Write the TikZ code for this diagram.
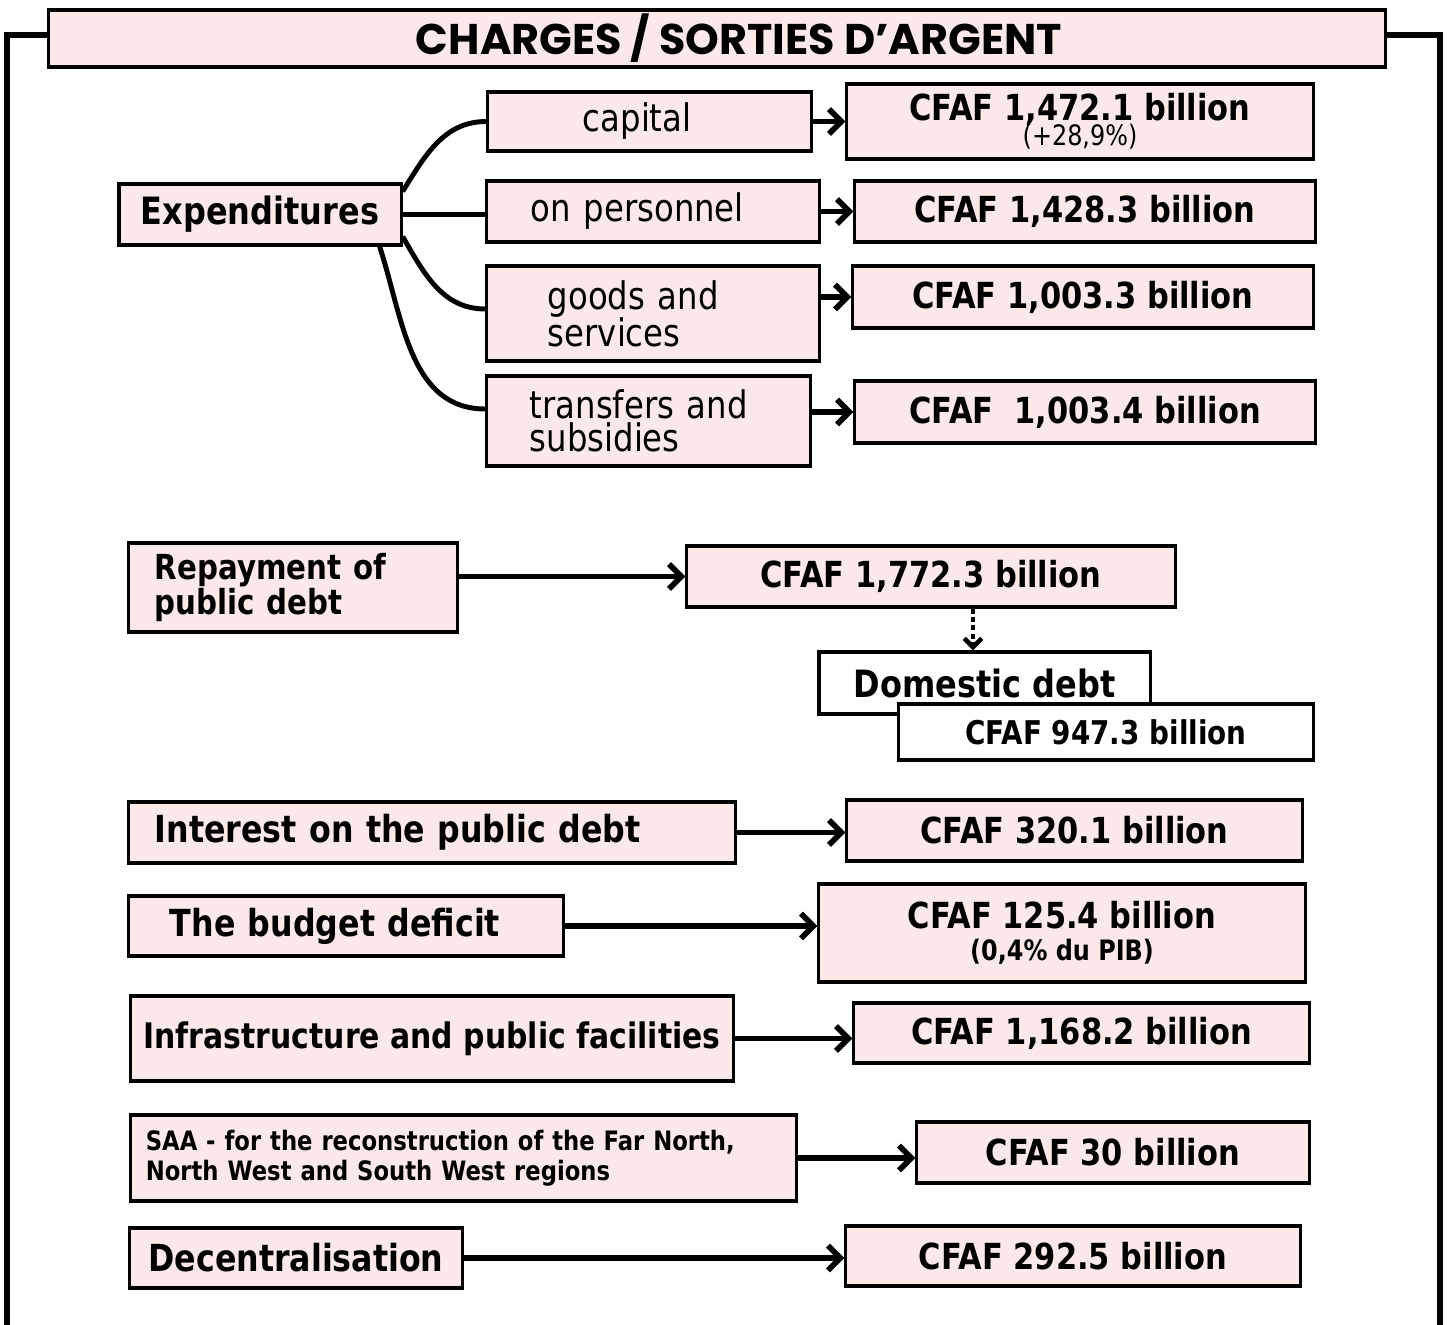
\documentclass[tikz,border=0pt]{standalone}
\usepackage{fontspec}
\setmainfont{DejaVu Sans}[FakeStretch=0.85]
\newfontfamily\titlefont{Poppins}
\usetikzlibrary{arrows.meta}
\definecolor{boxpink}{RGB}{251,233,233}

\tikzset{
  bsize/.style 2 args={minimum width=#1cm, minimum height=#2cm},
  box/.style={draw, line width=0.9pt, fill=boxpink, inner sep=0pt},
  valbox/.style={box, font=\fontsize{10.2}{12}\selectfont\bfseries},
  subbox/.style={box, font=\fontsize{10.8}{10.5}\selectfont},
  headbox/.style={box, font=\fontsize{10.6}{10}\selectfont\bfseries},
  frame/.style={line width=1.7pt},
  link/.style={line width=1.4pt},
  arr/.style={line width=1.6pt, -{Straight Barb[length=3.5pt,width=7pt]}},
  dotarr/.style={line width=1.3pt, dash pattern=on 1.4pt off 1pt, -{Straight Barb[length=2.5pt,width=5pt]}},
}

\begin{document}
\begin{tikzpicture}[x=0.01cm, y=-0.01cm]
\useasboundingbox (0,0) rectangle (1449,1325);

% outer frame and title
\coordinate (fl) at (7,1325);
\coordinate (fr) at (1440,1325);
\draw[frame] (fl) |- (49,35);
\draw[frame] (fr) |- (1385,35);
\node[box, bsize={13.36}{0.57}, font=\titlefont\fontsize{12.2}{12}\selectfont\bfseries] (title) at (717,38.5) {\hspace{0.44cm}CHARGES / SORTIES D’ARGENT};

% expenditures
\node[headbox, bsize={2.82}{0.61}, font=\fontsize{10.7}{12}\selectfont\bfseries] (expend) at (260,214.5) {Expenditures};
\node[subbox, bsize={3.23}{0.59}, text width=1.33cm, inner xsep=0.95cm, align=left] (capital) at (649.5,121.5) {capital};
\node[subbox, bsize={3.32}{0.61}, text width=2.44cm, inner xsep=0.44cm, align=left] (personnel) at (653,211.5) {on personnel};
\node[subbox, bsize={3.32}{0.95}, text width=2.10cm, inner xsep=0.61cm, align=left] (goods) at (653,313.5) {goods and\\services};
\node[subbox, bsize={3.23}{0.90}, text width=2.37cm, inner xsep=0.43cm, align=left, font=\fontsize{10.8}{9.4}\selectfont] (transfers) at (648.5,421) {transfers and\\subsidies};

\node[valbox, bsize={4.66}{0.75}, align=center] (vcap) at (1080,121.5) {CFAF 1,472.1 billion\\[-5pt]{\fontsize{8}{8}\selectfont\mdseries (+28,9\%)}};
\node[valbox, bsize={4.60}{0.61}] (vpers) at (1085,211.5) {CFAF 1,428.3 billion};
\node[valbox, bsize={4.60}{0.62}] (vgoods) at (1083,297) {CFAF 1,003.3 billion};
\node[valbox, bsize={4.60}{0.62}] (vtrans) at (1085,412) {CFAF\ \ 1,003.4 billion};

\draw[link] ([yshift=-0.09cm]expend.north east) to[out=58,in=180] (capital.west);
\draw[link] (expend.east) -- (expend.east -| personnel.west);
\draw[link] ([yshift=0.1cm]expend.south east) to[out=-60,in=180] ([yshift=0.045cm]goods.west);
\draw[link] ([xshift=-0.23cm]expend.south east) to[out=-72,in=180] ([yshift=0.12cm]transfers.west);

\draw[arr] (capital.east) -- (vcap.west);
\draw[arr] (personnel.east) -- (vpers.west);
\draw[arr] (vgoods.west -| goods.east) -- (vgoods.west);
\draw[arr] (vtrans.west -| transfers.east) -- (vtrans.west);

% public debt
\node[headbox, bsize={3.28}{0.89}, text width=2.76cm, inner xsep=0.26cm, align=left, font=\fontsize{9.8}{10}\selectfont\bfseries] (repay) at (293,587.5) {Repayment of\\public debt};
\node[valbox, bsize={4.88}{0.61}] (vrepay) at (931,576.5) {CFAF 1,772.3 billion};
\node[box, fill=white, bsize={3.31}{0.62}, font=\fontsize{10.7}{12}\selectfont\bfseries] (domestic) at (984.5,683) {Domestic debt};
\node[box, fill=white, bsize={4.14}{0.56}, font=\fontsize{9.3}{12}\selectfont\bfseries] (vdomestic) at (1106,732) {CFAF 947.3 billion};

\draw[arr] (repay.east |- vrepay.west) -- (vrepay.west);
\coordinate (dd) at ([xshift=-0.115cm]domestic.north);
\draw[dotarr] (dd |- vrepay.south) -- (dd);

% other charges
\node[headbox, bsize={6.06}{0.61}, text width=5.54cm, inner xsep=0.26cm, align=left] (interest) at (432,832.5) {Interest on the public debt};
\node[valbox, bsize={4.55}{0.61}] (vinterest) at (1074.5,830.5) {CFAF 320.1 billion};
\node[headbox, bsize={4.34}{0.60}, text width=3.52cm, inner xsep=0.41cm, align=left] (deficit) at (346,926) {The budget deficit};
\node[valbox, bsize={4.86}{0.98}, align=center] (vdeficit) at (1062,933) {CFAF 125.4 billion\\[-3pt]{\fontsize{8}{8}\selectfont (0,4\% du PIB)}};
\node[headbox, bsize={6.02}{0.85}, font=\fontsize{10}{12}\selectfont\bfseries] (infra) at (432,1038.5) {Infrastructure and public facilities};
\node[valbox, bsize={4.55}{0.60}] (vinfra) at (1081.5,1033) {CFAF 1,168.2 billion};
\node[headbox, bsize={6.65}{0.86}, text width=6.35cm, inner xsep=0.15cm, align=left, font=\fontsize{7.6}{8.5}\selectfont\bfseries] (saa) at (463.5,1158) {SAA - for the reconstruction of the Far North,\\North West and South West regions};
\node[valbox, bsize={3.92}{0.61}] (vsaa) at (1113,1152.5) {CFAF 30 billion};
\node[headbox, bsize={3.32}{0.60}] (decent) at (296,1258) {Decentralisation};
\node[valbox, bsize={4.54}{0.60}] (vdecent) at (1073,1256) {CFAF 292.5 billion};

\draw[arr] (interest.east) -- (interest.east -| vinterest.west);
\draw[arr] (deficit.east) -- (deficit.east -| vdeficit.west);
\draw[arr] (infra.east) -- (infra.east -| vinfra.west);
\draw[arr] (saa.east) -- (saa.east -| vsaa.west);
\draw[arr] (decent.east) -- (decent.east -| vdecent.west);
\end{tikzpicture}
\end{document}
